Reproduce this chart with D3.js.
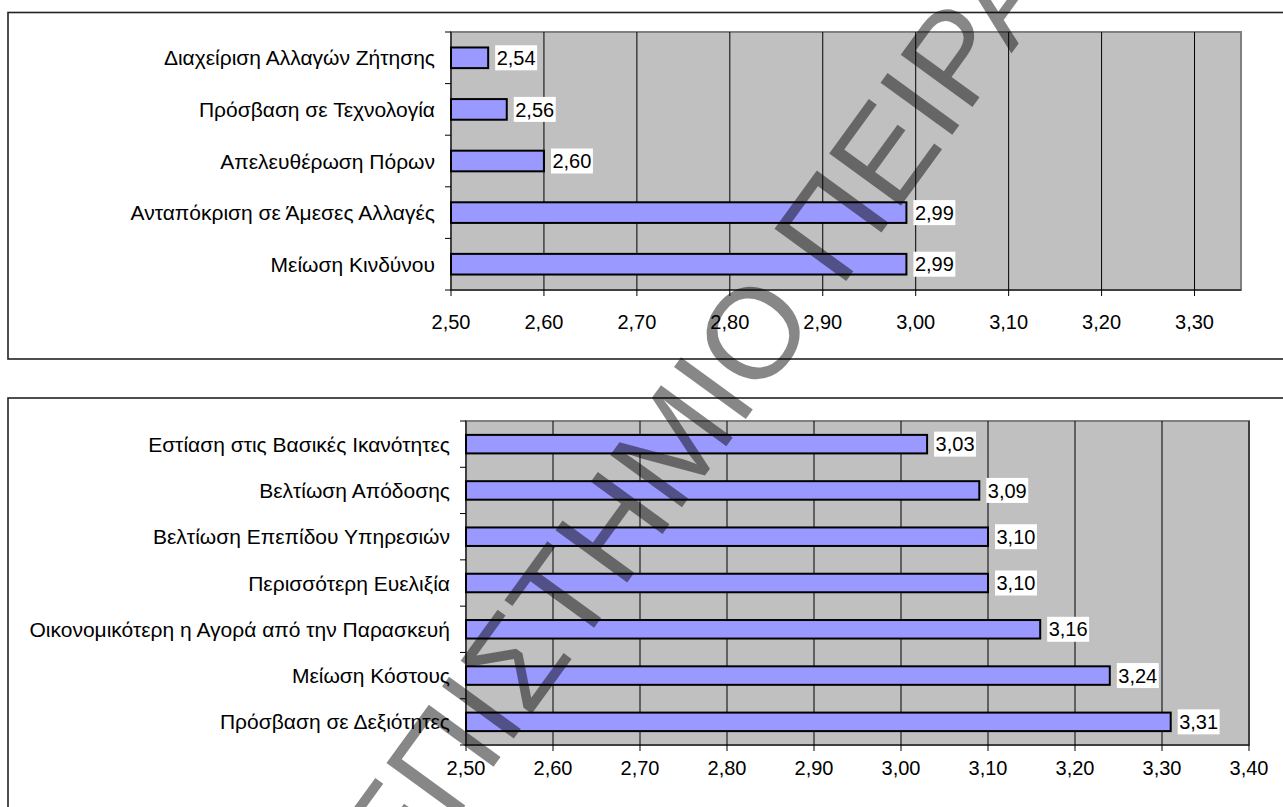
<!DOCTYPE html>
<html>
<head>
<meta charset="utf-8">
<script src="https://cdn.jsdelivr.net/npm/d3@7"></script>
<style>
  html, body { margin: 0; padding: 0; background: #fff; overflow: hidden; }
  svg { display: block; }
  text { font-family: "Liberation Sans", Arial, sans-serif; }
</style>
</head>
<body>
<svg id="chart" width="1283" height="807"></svg>
<script>
// Upper panel: benefits rated below 3
const categoriesTop = [
  "Διαχείριση Αλλαγών Ζήτησης",
  "Πρόσβαση σε Τεχνολογία",
  "Απελευθέρωση Πόρων",
  "Ανταπόκριση σε Άμεσες Αλλαγές",
  "Μείωση Κινδύνου"
];
const valuesTop = [2.54, 2.56, 2.60, 2.99, 2.99];
const ticksTop = [2.5, 2.6, 2.7, 2.8, 2.9, 3.0, 3.1, 3.2, 3.3];

// Lower panel: benefits rated above 3
const categoriesBottom = [
  "Εστίαση στις Βασικές Ικανότητες",
  "Βελτίωση Απόδοσης",
  "Βελτίωση Επεπίδου Υπηρεσιών",
  "Περισσότερη Ευελιξία",
  "Οικονομικότερη η Αγορά από την Παρασκευή",
  "Μείωση Κόστους",
  "Πρόσβαση σε Δεξιότητες"
];
const valuesBottom = [3.03, 3.09, 3.10, 3.10, 3.16, 3.24, 3.31];
const ticksBottom = [2.5, 2.6, 2.7, 2.8, 2.9, 3.0, 3.1, 3.2, 3.3, 3.4];

const watermarkText = "ΠΑΝΕΠΙΣΤΗΜΙΟ ΠΕΙΡΑΙΩΣ";

const svg = d3.select("#chart");
const LABEL_FONT = 21;
const NUM_FONT = 20;
const fmt = v => d3.format(".2f")(v).replace(".", ",");

function panel(cfg) {
  const g = svg.append("g");

  // outer chart frame (runs off the right edge of the page)
  g.append("rect")
    .attr("x", cfg.frame[0]).attr("y", cfg.frame[1])
    .attr("width", cfg.frame[2]).attr("height", cfg.frame[3])
    .attr("fill", "#fff").attr("stroke", "#222").attr("stroke-width", 1.6);

  const x = d3.scaleLinear().domain(cfg.domain).range([cfg.left, cfg.right]);
  const y = d3.scaleBand().domain(cfg.categories)
    .range([cfg.top, cfg.bottom]).paddingInner(0.6).paddingOuter(0.3);

  // plot area
  g.append("rect")
    .attr("x", cfg.left).attr("y", cfg.top)
    .attr("width", cfg.right - cfg.left).attr("height", cfg.bottom - cfg.top)
    .attr("fill", "#c0c0c0").attr("stroke", "#808080").attr("stroke-width", 2);

  // vertical gridlines
  g.selectAll(".grid").data(cfg.ticks.slice(1)).enter().append("line")
    .attr("x1", d => x(d)).attr("x2", d => x(d))
    .attr("y1", cfg.top).attr("y2", cfg.bottom)
    .attr("stroke", "#000").attr("stroke-width", 1);

  // bars
  g.selectAll(".bar").data(cfg.values).enter().append("rect")
    .attr("x", x(cfg.domain[0]))
    .attr("y", (d, i) => y(cfg.categories[i]))
    .attr("width", d => x(d) - x(cfg.domain[0]))
    .attr("height", y.bandwidth())
    .attr("fill", "#9999ff").attr("stroke", "#000").attr("stroke-width", 2);

  // value labels on white boxes
  cfg.values.forEach((v, i) => {
    const cy = y(cfg.categories[i]) + y.bandwidth() / 2;
    const bx = x(v) + 7;
    const lbl = g.append("g");
    const box = lbl.append("rect").attr("fill", "#fff");
    const t = lbl.append("text")
      .attr("x", bx + 1.5).attr("y", cy).attr("dy", "0.36em")
      .attr("font-size", NUM_FONT).attr("fill", "#000").text(fmt(v));
    const w = t.node().getComputedTextLength();
    box.attr("x", bx).attr("y", cy - 12.5).attr("width", w + 3).attr("height", 25);
  });

  // category axis
  g.append("line")
    .attr("x1", cfg.left).attr("x2", cfg.left)
    .attr("y1", cfg.top).attr("y2", cfg.bottom)
    .attr("stroke", "#000").attr("stroke-width", 1);
  const bounds = d3.range(cfg.categories.length + 1).map(i => cfg.top + i * y.step());
  g.selectAll(".ytick").data(bounds).enter().append("line")
    .attr("x1", cfg.left - 6).attr("x2", cfg.left)
    .attr("y1", d => d).attr("y2", d => d)
    .attr("stroke", "#000").attr("stroke-width", 1);
  g.selectAll(".ylab").data(cfg.categories).enter().append("text")
    .attr("x", cfg.left - 16)
    .attr("y", d => y(d) + y.bandwidth() / 2).attr("dy", "0.36em")
    .attr("text-anchor", "end").attr("font-size", LABEL_FONT).attr("fill", "#000")
    .text(d => d);

  // value axis
  g.append("line")
    .attr("x1", cfg.left).attr("x2", cfg.right)
    .attr("y1", cfg.bottom).attr("y2", cfg.bottom)
    .attr("stroke", "#000").attr("stroke-width", 1);
  g.selectAll(".xtick").data(cfg.ticks).enter().append("line")
    .attr("x1", d => x(d)).attr("x2", d => x(d))
    .attr("y1", cfg.bottom).attr("y2", cfg.bottom + 6)
    .attr("stroke", "#000").attr("stroke-width", 1);
  g.selectAll(".xlab").data(cfg.ticks).enter().append("text")
    .attr("x", d => x(d)).attr("y", cfg.bottom + cfg.tickLabelGap).attr("dy", "0.36em")
    .attr("text-anchor", "middle").attr("font-size", NUM_FONT).attr("fill", "#000")
    .text(fmt);
}

panel({
  frame: [8, 12.5, 1300, 346.5],
  categories: categoriesTop, values: valuesTop, ticks: ticksTop,
  domain: [2.5, 3.35],
  left: 451, right: 1241, top: 32, bottom: 290, tickLabelGap: 32
});

panel({
  frame: [8, 398, 1300, 430],
  categories: categoriesBottom, values: valuesBottom, ticks: ticksBottom,
  domain: [2.5, 3.4],
  left: 466, right: 1249, top: 421, bottom: 745, tickLabelGap: 23
});

// diagonal translucent watermark lettering across both panels
(function () {
  const angle = -54, size = 129;
  const wm = svg.append("text")
    .attr("font-size", size)
    .attr("fill", "#000").attr("fill-opacity", 0.47)
    .text(watermarkText);
  const node = wm.node();
  const oIndex = watermarkText.indexOf("Ο");
  const start = node.getStartPositionOfChar(oIndex).x;
  const end = node.getEndPositionOfChar(oIndex).x;
  const lx = (start + end) / 2, ly = -size * 0.716 / 2;
  const a = angle * Math.PI / 180;
  const target = [752, 332];
  const tx = target[0] - (lx * Math.cos(a) - ly * Math.sin(a));
  const ty = target[1] - (lx * Math.sin(a) + ly * Math.cos(a));
  wm.attr("transform", `translate(${tx},${ty}) rotate(${angle})`);
})();
</script>
</body>
</html>
